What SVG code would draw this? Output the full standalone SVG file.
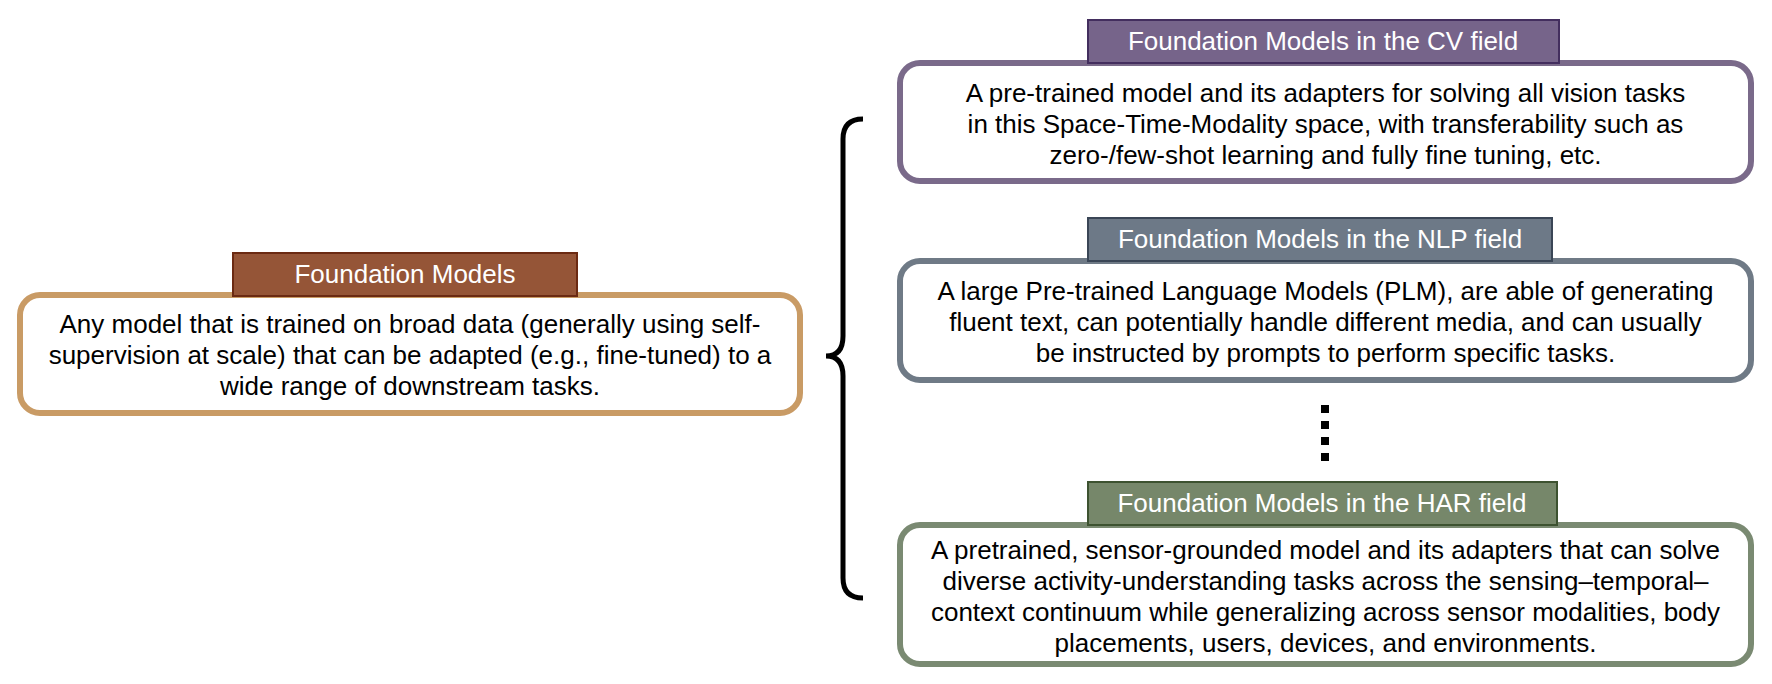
<svg xmlns="http://www.w3.org/2000/svg" width="1772" height="684" viewBox="0 0 1772 684">
<style>
.box{fill:#ffffff;stroke-width:6}
.hdr{stroke-width:2}
.t{font-family:"Liberation Sans",Arial,Helvetica,sans-serif;font-size:26px;text-anchor:middle;fill:#000000}
.ht{font-family:"Liberation Sans",Arial,Helvetica,sans-serif;font-size:26px;text-anchor:middle;fill:#ffffff}
</style>
<rect width="1772" height="684" fill="#ffffff"/>
<g id="connectors">
<path d="M863,119 Q843,119 843,139 L843,336 Q843,356 826,356 Q843,356 843,376 L843,578 Q843,598 863,598" fill="none" stroke="#000000" stroke-width="5"/>
<line x1="1325" y1="405" x2="1325" y2="461" stroke="#000000" stroke-width="8" stroke-dasharray="8 8"/>
</g>
<g id="fm">
<rect class="box" x="20" y="295" width="780" height="118" rx="20" stroke="#C99B65"/>
<rect class="hdr" x="233" y="253" width="344" height="43" fill="#955537" stroke="#6B2A12"/>
<text class="ht" x="405" y="283">Foundation Models</text>
<text class="t" x="410" y="333">Any model that is trained on broad data (generally using self-</text>
<text class="t" x="410" y="364">supervision at scale) that can be adapted (e.g., fine-tuned) to a</text>
<text class="t" x="410" y="395">wide range of downstream tasks.</text>
</g>
<g id="cv">
<rect class="box" x="900" y="63" width="851" height="118" rx="20" stroke="#7A6A8A"/>
<rect class="hdr" x="1088" y="20" width="471" height="43" fill="#76648A" stroke="#432E5E"/>
<text class="ht" x="1323" y="50">Foundation Models in the CV field</text>
<text class="t" x="1325.5" y="102">A pre-trained model and its adapters for solving all vision tasks</text>
<text class="t" x="1325.5" y="133">in this Space-Time-Modality space, with transferability such as</text>
<text class="t" x="1325.5" y="164">zero-/few-shot learning and fully fine tuning, etc.</text>
</g>
<g id="nlp">
<rect class="box" x="900" y="261" width="851" height="119" rx="20" stroke="#6F7A86"/>
<rect class="hdr" x="1088" y="218" width="464" height="43" fill="#6D7987" stroke="#3A4656"/>
<text class="ht" x="1320" y="248">Foundation Models in the NLP field</text>
<text class="t" x="1325.5" y="300">A large Pre-trained Language Models (PLM), are able of generating</text>
<text class="t" x="1325.5" y="331">fluent text, can potentially handle different media, and can usually</text>
<text class="t" x="1325.5" y="362">be instructed by prompts to perform specific tasks.</text>
</g>
<g id="har">
<rect class="box" x="900" y="525" width="851" height="139" rx="20" stroke="#7A8A72"/>
<rect class="hdr" x="1088" y="482" width="469" height="43" fill="#76876A" stroke="#3D5230"/>
<text class="ht" x="1322" y="512">Foundation Models in the HAR field</text>
<text class="t" x="1325.5" y="559">A pretrained, sensor-grounded model and its adapters that can solve</text>
<text class="t" x="1325.5" y="590">diverse activity-understanding tasks across the sensing–temporal–</text>
<text class="t" x="1325.5" y="621">context continuum while generalizing across sensor modalities, body</text>
<text class="t" x="1325.5" y="652">placements, users, devices, and environments.</text>
</g>
</svg>
